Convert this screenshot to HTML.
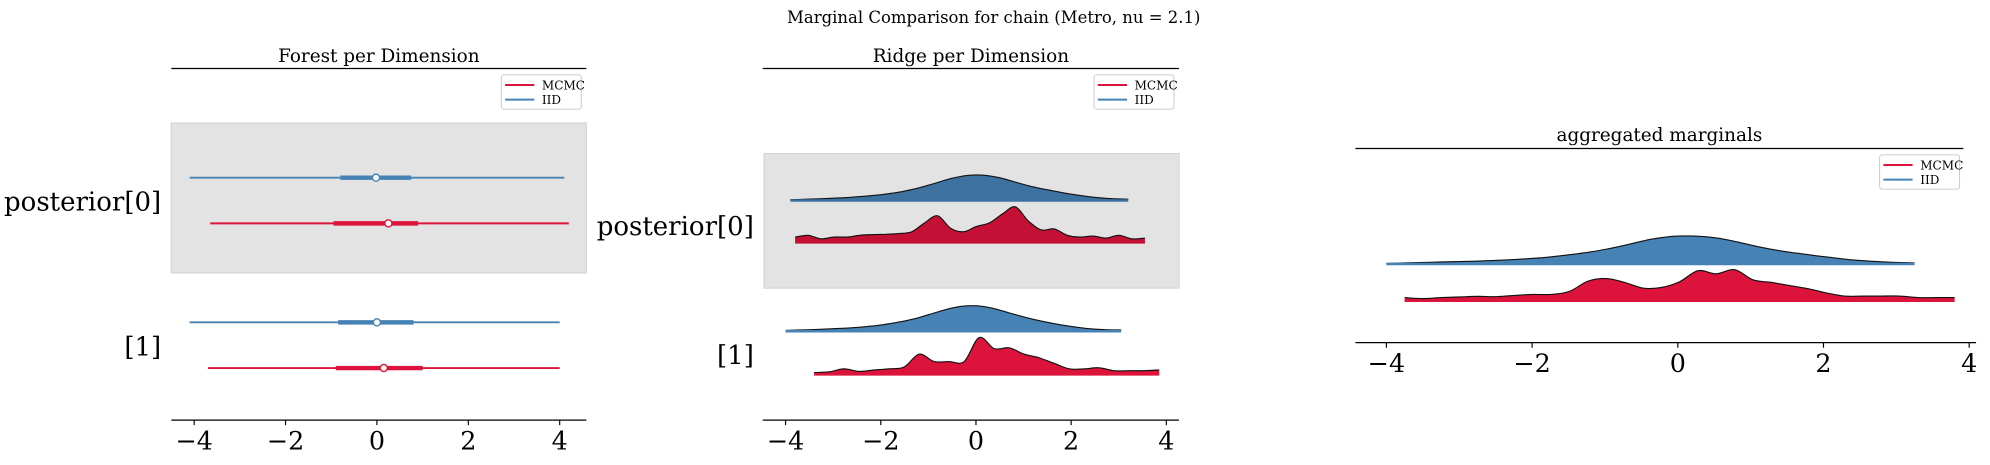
<!DOCTYPE html>
<html><head><meta charset="utf-8">
<style>
html,body{margin:0;padding:0;background:#fff;}
svg{display:block;font-family:"DejaVu Serif","Liberation Serif",serif;}
</style></head>
<body>
<svg id="chart" width="1990" height="465" viewBox="0 0 1568 366.4" preserveAspectRatio="none" xmlns="http://www.w3.org/2000/svg">
<text x="783" y="18" text-anchor="middle" font-size="13">Marginal Comparison for chain (Metro, nu = 2.1)</text>
<g id="p1"></g>
<g id="p2"></g>
<g id="p3"></g>
</svg>
<script>
// ---- data ----
const ticks = [-4, -2, 0, 2, 4];
const tickLabels = ["\u22124", "\u22122", "0", "2", "4"];
const dimLabels = ["posterior[0]", "[1]"];
const seriesNames = ["MCMC", "IID"];
// forest: [lo, thickLo, median, thickHi, hi]
const forestIID = [[-4.1, -0.8, -0.02, 0.75, 4.1], [-4.1, -0.85, 0.0, 0.8, 4.0]];
const forestMCMC = [[-3.65, -0.95, 0.25, 0.9, 4.2], [-3.7, -0.9, 0.15, 1.0, 4.0]];
// ridge densities (relative heights, uniform grid between start and end)
const ridgeIID0Range = [-3.9, 3.2];
const ridgeIID0 = [0.03,0.05,0.07,0.1,0.14,0.19,0.26,0.36,0.5,0.68,0.87,0.99,1.0,0.9,0.72,0.55,0.42,0.3,0.2,0.12,0.07,0.05];
const ridgeMCMC0Range = [-3.8, 3.55];
const ridgeMCMC0 = [0.15,0.2,0.1,0.15,0.15,0.2,0.22,0.23,0.25,0.3,0.55,0.75,0.4,0.3,0.45,0.55,0.8,1.0,0.6,0.35,0.38,0.2,0.15,0.18,0.12,0.2,0.1,0.12];
const ridgeIID1Range = [-4.0, 3.05];
const ridgeIID1 = [0.03,0.05,0.07,0.1,0.13,0.18,0.25,0.35,0.48,0.66,0.85,0.98,1.0,0.9,0.72,0.55,0.4,0.28,0.18,0.1,0.06,0.05];
const ridgeMCMC1Range = [-3.4, 3.85];
const ridgeMCMC1 = [0.05,0.07,0.15,0.08,0.12,0.15,0.2,0.55,0.35,0.35,0.35,1.0,0.7,0.72,0.55,0.45,0.3,0.15,0.15,0.18,0.1,0.1,0.1,0.12];
const aggIIDRange = [-4.0, 3.25];
const aggIID = [0.02,0.04,0.06,0.08,0.1,0.13,0.17,0.22,0.3,0.4,0.53,0.7,0.88,0.99,1.0,0.93,0.78,0.6,0.46,0.35,0.25,0.16,0.1,0.06,0.04];
const aggMCMCRange = [-3.75, 3.8];
const aggMCMC = [0.1,0.07,0.1,0.12,0.14,0.13,0.17,0.2,0.2,0.3,0.62,0.7,0.58,0.4,0.42,0.6,0.95,0.85,0.98,0.66,0.58,0.48,0.38,0.25,0.15,0.15,0.15,0.15,0.1,0.1,0.1];

const NS = "http://www.w3.org/2000/svg";
function mk(parent, tag, attrs){const e=document.createElementNS(NS,tag);for(const k in attrs)e.setAttribute(k,attrs[k]);parent.appendChild(e);return e;}

function axisX(g, x, axY, x0, x1){
  const l = mk(g,'line',{x1:x0,x2:x1,y1:axY,y2:axY,stroke:'#000','stroke-width':1});
  
  
  ticks.forEach((t,i)=>{
    const tk = mk(g,'line',{x1:x(t),x2:x(t),y1:axY,y2:axY+4,stroke:'#000','stroke-width':0.9});
    
    
    const tx = mk(g,'text',{x:x(t),y:axY+23,'text-anchor':'middle','font-size':20});
    tx.textContent = tickLabels[i];
    
    
  });
}
function topLine(g,x0,x1,y,title,ty){
  const l = mk(g,'line',{x1:x0,x2:x1,y1:y,y2:y,stroke:'#000','stroke-width':1});
  
  
  const t = mk(g,'text',{x:(x0+x1)/2,y:ty,'text-anchor':'middle','font-size':14.5});
  t.textContent = title;
  
  
}
function legend(g,x,y){
  const r = mk(g,'rect',{x:x,y:y,width:63,height:27,rx:2,fill:'#fff',stroke:'#ccc','stroke-width':0.8});
  
  
  const cols=['#dc143c','#4682b4'];
  seriesNames.forEach((n,i)=>{
    const yy=y+8+i*11.5;
    const ln = mk(g,'line',{x1:x+3,x2:x+26,y1:yy,y2:yy,stroke:cols[i],'stroke-width':1.6});
    
    
    const tx = mk(g,'text',{x:x+32,y:yy+3.5,'font-size':9.5});
    tx.textContent=n;
    
    
  });
}
function dimLabel(g,x,y,txt){
  const t = mk(g,'text',{x:x,y:y,'text-anchor':'end','font-size':20.5});
  t.textContent = txt;
  
  
}
function ridge(g, x, range, vals, base, h, fill, name){
  const n=vals.length;
  const pts = vals.map((v,i)=>[x(range[0]+(range[1]-range[0])*i/(n-1)), base-v*h]);
  let d2='M'+pts[0][0].toFixed(1)+','+pts[0][1].toFixed(1);
  for(let i=1;i<n;i++){
    const p0=pts[Math.max(i-2,0)],p1=pts[i-1],p2=pts[i],p3=pts[Math.min(i+1,n-1)];
    const c1=[p1[0]+(p2[0]-p0[0])/6,p1[1]+(p2[1]-p0[1])/6];
    const c2=[p2[0]-(p3[0]-p1[0])/6,p2[1]-(p3[1]-p1[1])/6];
    d2+=' C'+c1[0].toFixed(1)+','+c1[1].toFixed(1)+' '+c2[0].toFixed(1)+','+c2[1].toFixed(1)+' '+p2[0].toFixed(1)+','+p2[1].toFixed(1);
  }
  const d = d2+' L'+x(range[1])+','+base+' L'+x(range[0])+','+base+' Z';
  const p = mk(g,'path',{d:d,fill:fill,stroke:'none'});
  
  
  const o = mk(g,'path',{d:d2,fill:'none',stroke:'#111','stroke-width':0.9});
  
  
  const b = mk(g,'line',{x1:x(range[0]),x2:x(range[1]),y1:base,y2:base,stroke:fill,'stroke-width':2});
  
  
}

// ---- panel 1: forest ----
(function(){
  const g=document.getElementById('p1');
  const x=v=>297+36*v;
  const bg = mk(g,'rect',{x:135,y:97,width:327,height:118,fill:'#e3e3e3',stroke:'#d6d6d6'});
  
  
  topLine(g,135,462,54,'Forest per Dimension',49);
  legend(g,395,59);
  const rows=[[forestIID[0],140,'#4682b4','iid-0'],[forestMCMC[0],176,'#dc143c','mcmc-0'],[forestIID[1],254,'#4682b4','iid-1'],[forestMCMC[1],290,'#dc143c','mcmc-1']];
  rows.forEach(([f,y,c,n])=>{
    const a = mk(g,'line',{x1:x(f[0]),x2:x(f[4]),y1:y,y2:y,stroke:c,'stroke-width':1.5});
    
    
    const b = mk(g,'line',{x1:x(f[1]),x2:x(f[3]),y1:y,y2:y,stroke:c,'stroke-width':3.5});
    
    
    const m = mk(g,'circle',{cx:x(f[2]),cy:y,r:2.8,fill:'#fff',stroke:c,'stroke-width':1.1});
    
    
  });
  dimLabel(g,127,166,dimLabels[0]);
  dimLabel(g,127,280,dimLabels[1]);
  axisX(g,x,331,135,462);
})();

// ---- panel 2: ridge ----
(function(){
  const g=document.getElementById('p2');
  const x=v=>769+37.5*v;
  const bg = mk(g,'rect',{x:602,y:121,width:327,height:106,fill:'#e3e3e3',stroke:'#d6d6d6'});
  
  
  topLine(g,601,929,54,'Ridge per Dimension',49);
  legend(g,862,59);
  ridge(g,x,ridgeIID0Range,ridgeIID0,158,20,'#3d72a0','ridge-iid-0');
  ridge(g,x,ridgeMCMC0Range,ridgeMCMC0,191,28,'#c41035','ridge-mcmc-0');
  ridge(g,x,ridgeIID1Range,ridgeIID1,261,20,'#4682b4','ridge-iid-1');
  ridge(g,x,ridgeMCMC1Range,ridgeMCMC1,295,29,'#dc143c','ridge-mcmc-1');
  dimLabel(g,594,185,dimLabels[0]);
  dimLabel(g,594,287,dimLabels[1]);
  axisX(g,x,331,601,929);
})();

// ---- panel 3: aggregated ----
(function(){
  const g=document.getElementById('p3');
  const x=v=>1322+57.4*v;
  topLine(g,1068,1547,117,'aggregated marginals',111);
  legend(g,1481,122);
  ridge(g,x,aggIIDRange,aggIID,208,22,'#4682b4','agg-iid');
  ridge(g,x,aggMCMCRange,aggMCMC,237,25,'#dc143c','agg-mcmc');
  axisX(g,x,270,1068,1557);
})();
</script>
</body></html>
